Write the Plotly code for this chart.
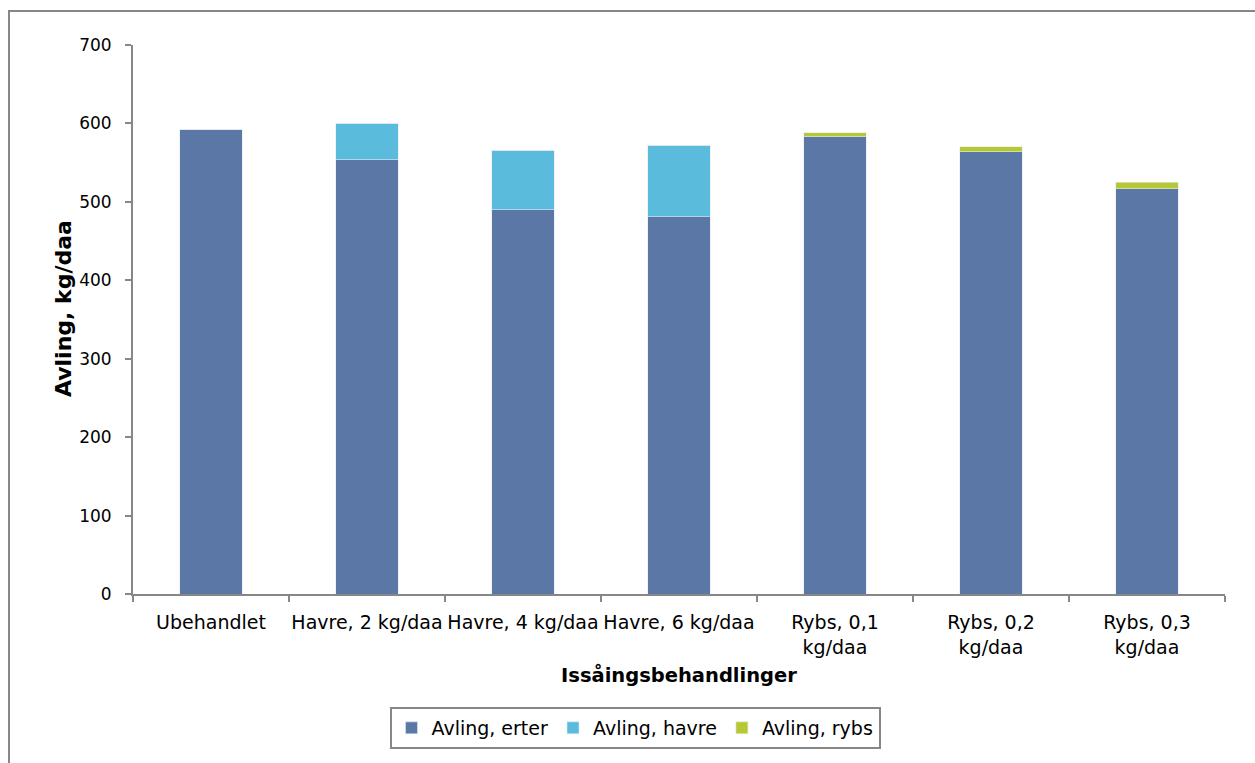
import plotly.graph_objects as go

# Treatments (x categories) and yield components, kg/daa
categories = [
    "Ubehandlet",
    "Havre, 2 kg/daa",
    "Havre, 4 kg/daa",
    "Havre, 6 kg/daa",
    "Rybs, 0,1<br>kg/daa",
    "Rybs, 0,2<br>kg/daa",
    "Rybs, 0,3<br>kg/daa",
]
erter = [592, 554, 490, 481, 583, 564, 517]
havre = [0, 46, 76, 91, 0, 0, 0]
rybs = [0, 0, 0, 0, 5, 6, 8]

series = [
    ("Avling, erter", erter, "#5B77A6"),
    ("Avling, havre", havre, "#5BBBDC"),
    ("Avling, rybs", rybs, "#B7C835"),
]

FONT = "DejaVu Sans, sans-serif"
AXIS = "#878787"

fig = go.Figure()
for name, vals, col in series:
    fig.add_trace(go.Bar(
        x=categories, y=vals, name=name,
        marker=dict(color=col, line=dict(color="#E4E9F2", width=0.6)),
        width=0.4,
    ))

fig.update_layout(
    width=1255, height=763,
    barmode="stack",
    paper_bgcolor="white", plot_bgcolor="white",
    margin=dict(l=133, r=30, t=45, b=169),
    font=dict(family=FONT, size=18, color="black"),
    showlegend=True,
    legend=dict(
        orientation="h", traceorder="normal",
        x=(635 - 133) / 1092, xanchor="center",
        y=(594 - 707) / 549, yanchor="top",
        bordercolor=AXIS, borderwidth=2,
        font=dict(family=FONT, size=19),
        itemwidth=30, tracegroupgap=0,
    ),
    bargap=0.6,
)

fig.update_xaxes(
    showline=True, linecolor=AXIS, linewidth=2,
    ticks="outside", tickson="boundaries", ticklen=6, tickcolor=AXIS, tickwidth=2,
    tickangle=0, ticklabelstandoff=10,
    tickfont=dict(family=FONT, size=19),
    title=dict(text="<b>Issåingsbehandlinger</b>", font=dict(family=FONT, size=19.5), standoff=12),
    showgrid=False,
)
fig.update_yaxes(
    range=[0, 700], dtick=100,
    showline=True, linecolor=AXIS, linewidth=2,
    ticks="outside", ticklen=6, tickcolor=AXIS, tickwidth=2,
    ticklabelstandoff=10,
    tickfont=dict(family=FONT, size=17),
    showgrid=False, zeroline=False,
)

# Value-axis title
fig.add_annotation(
    text="<b>Avling, kg/daa</b>", textangle=-90,
    xref="paper", yref="paper",
    x=(63 - 133) / 1092, y=(594 - 309) / 549,
    xanchor="center", yanchor="middle", showarrow=False,
    font=dict(family=FONT, size=22),
)

# Chart-area frame
fig.add_shape(
    type="rect", xref="paper", yref="paper",
    x0=(9 - 133) / 1092, x1=(1262 - 133) / 1092,
    y0=(594 - 775) / 549, y1=(594 - 11) / 549,
    line=dict(color=AXIS, width=2), layer="below",
)

fig.write_html("out.html")
